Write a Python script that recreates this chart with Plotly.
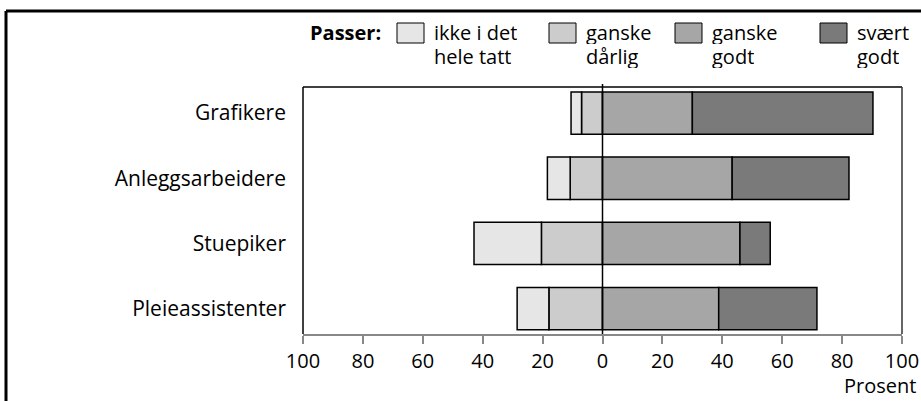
import plotly.graph_objects as go

# ---- data ----
categories = ["Grafikere", "Anleggsarbeidere", "Stuepiker", "Pleieassistenter"]
ikke_i_det_hele_tatt = [3.5, 7.6, 22.5, 10.6]
ganske_darlig = [7.0, 10.8, 20.4, 17.9]
ganske_godt = [30.0, 43.3, 45.9, 38.8]
svaert_godt = [60.3, 39.0, 10.1, 32.8]
x_ticks = [-100, -80, -60, -40, -20, 0, 20, 40, 60, 80, 100]
x_ticktext = [str(abs(v)) for v in x_ticks]

series_labels = [["ikke i det", "hele tatt"], ["ganske", "dårlig"], ["ganske", "godt"], ["svært", "godt"]]
colors = ["#e6e6e6", "#cccccc", "#a6a6a6", "#7a7a7a"]

# ---- layout geometry (pixels) ----
W, H = 921, 401
ML, MR, MT, MB = 303, 19, 87, 67
PW, PH = W - ML - MR, H - MT - MB
FONT = "Open Sans"
FS = 20

def px(x):
    return (x - ML) / PW

def py(y):
    return (H - MB - y) / PH

fig = go.Figure()
line = dict(color="#000000", width=1.5)
# negative side: closest to zero first
fig.add_trace(go.Bar(y=categories, x=[-v for v in ganske_darlig], orientation="h",
                     marker=dict(color=colors[1], line=line), width=0.65, showlegend=False))
fig.add_trace(go.Bar(y=categories, x=[-v for v in ikke_i_det_hele_tatt], orientation="h",
                     marker=dict(color=colors[0], line=line), width=0.65, showlegend=False))
fig.add_trace(go.Bar(y=categories, x=ganske_godt, orientation="h",
                     marker=dict(color=colors[2], line=line), width=0.65, showlegend=False))
fig.add_trace(go.Bar(y=categories, x=svaert_godt, orientation="h",
                     marker=dict(color=colors[3], line=line), width=0.65, showlegend=False))

shapes = []
# zero line
shapes.append(dict(type="line", xref="x", yref="paper", x0=0, x1=0, y0=0, y1=py(84),
                   line=dict(color="#000000", width=1.5), layer="above"))
# plot frame: left, top, right
shapes.append(dict(type="line", xref="paper", yref="paper", x0=0, x1=0, y0=0, y1=1,
                   line=dict(color="#000000", width=1.5)))
shapes.append(dict(type="line", xref="paper", yref="paper", x0=0, x1=1, y0=1, y1=1,
                   line=dict(color="#000000", width=1.5)))
shapes.append(dict(type="line", xref="paper", yref="paper", x0=1, x1=1, y0=0, y1=1,
                   line=dict(color="#333333", width=1.5)))
# outer frame (top + left)
shapes.append(dict(type="line", xref="paper", yref="paper", x0=px(6), x1=px(925), y0=py(11), y1=py(11),
                   line=dict(color="#000000", width=3)))
shapes.append(dict(type="line", xref="paper", yref="paper", x0=px(6), x1=px(6), y0=py(11), y1=py(405),
                   line=dict(color="#000000", width=3)))

annotations = []
annotations.append(dict(text="<b>Passer:</b>", xref="paper", yref="paper", x=px(383), y=py(33),
                        xanchor="right", yanchor="middle", showarrow=False,
                        font=dict(family=FONT, size=FS, color="#000000")))
box_left = [397, 549, 675, 820]
for i, lab in enumerate(series_labels):
    bx = box_left[i]
    shapes.append(dict(type="rect", xref="paper", yref="paper", x0=px(bx), x1=px(bx + 27),
                       y0=py(43), y1=py(23), fillcolor=colors[i],
                       line=dict(color="#000000", width=1)))
    for j, txt in enumerate(lab):
        annotations.append(dict(text=txt, xref="paper", yref="paper", x=px(bx + 35), y=py(33 + 23 * j),
                                xanchor="left", yanchor="middle", align="left", showarrow=False,
                                height=23, valign="middle",
                                font=dict(family=FONT, size=FS, color="#000000")))
annotations.append(dict(text="Prosent", xref="paper", yref="paper", x=px(918), y=py(385),
                        xanchor="right", yanchor="middle", showarrow=False,
                        font=dict(family=FONT, size=FS, color="#000000")))

fig.update_layout(
    width=W, height=H, autosize=False,
    margin=dict(l=ML, r=MR, t=MT, b=MB, pad=0, autoexpand=False),
    barmode="relative",
    plot_bgcolor="#ffffff", paper_bgcolor="#ffffff",
    font=dict(family=FONT, size=FS, color="#000000"),
    shapes=shapes, annotations=annotations,
    xaxis=dict(range=[-100, 100], tickvals=x_ticks, ticktext=x_ticktext, automargin=False,
               showgrid=False, zeroline=False, showline=True, linecolor="#888888", linewidth=2,
               ticks="outside", ticklen=8, tickwidth=2, tickcolor="#888888",
               tickfont=dict(family=FONT, size=FS, color="#000000")),
    yaxis=dict(categoryorder="array", categoryarray=categories, range=[3.39, -0.4], automargin=False,
               showgrid=False, zeroline=False, showline=False, ticks="",
               ticklabelstandoff=16,
               tickfont=dict(family=FONT, size=21, color="#000000")),
)

fig.write_html(
    "out.html",
    config={"displayModeBar": False, "responsive": False},
    post_script=(
        "document.documentElement.style.overflow='hidden';"
        "document.body.style.overflow='hidden';"
        "document.body.style.margin='0';document.body.style.padding='0';"
    ),
)
